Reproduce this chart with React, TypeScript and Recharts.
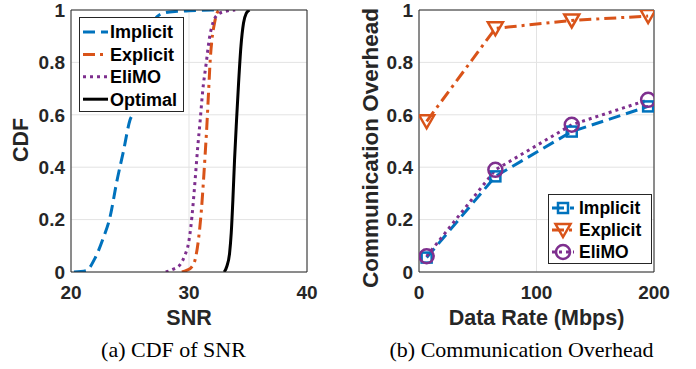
import { LineChart, Line, XAxis, YAxis, CartesianGrid, ReferenceLine } from 'recharts';

const BLUE = '#0072BD';
const ORANGE = '#D95319';
const PURPLE = '#7E2F8E';
const BLACK = '#000000';
const AXIS = '#262626';
const GRID = '#e3e3e3';
const SANS = "'Liberation Sans', Arial, Helvetica, sans-serif";
const SERIF = "'Liberation Serif', 'Times New Roman', serif";

// (a) CDF of SNR — one x/y list per curve
const implicitSnr = [20.25, 21.27, 22.04, 22.74, 23.31, 23.88, 24.44, 25.0, 25.3, 25.8, 26.3, 26.8, 27.3, 28.0, 29.0, 30.0, 32.3];
const implicitCdf = [0, 0.005, 0.053, 0.13, 0.21, 0.345, 0.46, 0.58, 0.61, 0.72, 0.83, 0.92, 0.975, 0.99, 0.995, 0.997, 1];
const explicitSnr = [29.39, 29.8, 30.24, 30.52, 30.8, 31.03, 31.23, 31.37, 31.51, 31.65, 31.8, 31.94, 32.16, 32.36, 32.59];
const explicitCdf = [0, 0.006, 0.02, 0.047, 0.123, 0.225, 0.35, 0.45, 0.555, 0.68, 0.81, 0.885, 0.95, 0.987, 1];
const elimoSnr = [28.03, 28.68, 29.25, 29.67, 29.96, 30.16, 30.33, 30.52, 30.72, 30.95, 31.17, 31.46, 31.71, 32.02, 32.5, 33.2, 33.92];
const elimoCdf = [0, 0.011, 0.028, 0.066, 0.11, 0.174, 0.25, 0.352, 0.466, 0.58, 0.695, 0.797, 0.886, 0.95, 0.985, 0.996, 1];
const optimalSnr = [32.98, 33.21, 33.44, 33.58, 33.72, 33.86, 34.03, 34.2, 34.4, 34.62, 34.85, 35.13];
const optimalCdf = [0, 0.022, 0.072, 0.149, 0.276, 0.428, 0.58, 0.72, 0.86, 0.95, 0.987, 1];

const snrTicks = [20, 30, 40];
const unitTicks = [0, 0.2, 0.4, 0.6, 0.8, 1];

// (b) Communication overhead vs data rate
const dataRates = [6.5, 65, 130, 195];
const implicitOverhead = [0.055, 0.365, 0.536, 0.632];
const explicitOverhead = [0.575, 0.93, 0.96, 0.977];
const elimoOverhead = [0.06, 0.39, 0.562, 0.657];
const rateTicks = [0, 100, 200];

const zip = (xs: number[], ys: number[]) => xs.map((x, i) => ({ x, y: ys[i] }));

const overheadRows = dataRates.map((x, i) => ({
  x,
  implicit: implicitOverhead[i],
  explicit: explicitOverhead[i],
  elimo: elimoOverhead[i],
}));

const tickStyle = { fill: AXIS, fontSize: 19, fontWeight: 'bold', fontFamily: SANS };
const fmtUnit = (v: number) => (v === 0 || v === 1 ? String(v) : v.toFixed(1));

const DASH = '12 6';
const DASHDOT = '12 5 3 5';
const DOT = '3 4';

// chart is as tall as the page so nothing under the x axis gets clipped
const CHART_H = 369;
const MARGIN_BOTTOM = 69;

function squareMarker(color: string, cx: number, cy: number, key?: string) {
  return <rect key={key} x={cx - 5} y={cy - 5} width={10} height={10} fill="none" stroke={color} strokeWidth={2.5} strokeDasharray="none" />;
}
function triangleMarker(color: string, cx: number, cy: number, key?: string) {
  const pts = `${cx - 7.5},${cy - 6} ${cx + 7.5},${cy - 6} ${cx},${cy + 7}`;
  return <polygon key={key} points={pts} fill="none" stroke={color} strokeWidth={2.5} strokeLinejoin="miter" strokeDasharray="none" />;
}
function circleMarker(color: string, cx: number, cy: number, key?: string) {
  return <circle key={key} cx={cx} cy={cy} r={7} fill="none" stroke={color} strokeWidth={2.5} strokeDasharray="none" />;
}

const dotOf = (draw: typeof squareMarker, color: string) => (p: any) => draw(color, p.cx, p.cy, `m-${color}-${p.index}`);

const cdfLegend = [
  { name: 'Implicit', color: BLUE, dash: DASH },
  { name: 'Explicit', color: ORANGE, dash: DASHDOT },
  { name: 'EliMO', color: PURPLE, dash: DOT },
  { name: 'Optimal', color: BLACK, dash: undefined },
];
const overheadLegend = [
  { name: 'Implicit', color: BLUE, dash: DASH, marker: squareMarker },
  { name: 'Explicit', color: ORANGE, dash: DASHDOT, marker: triangleMarker },
  { name: 'EliMO', color: PURPLE, dash: DOT, marker: circleMarker },
];

function CdfChart() {
  return (
    <LineChart width={340} height={CHART_H} margin={{ top: 10, right: 33, bottom: MARGIN_BOTTOM, left: 0 }}>
      <CartesianGrid stroke={GRID} />
      <XAxis
        type="number"
        dataKey="x"
        domain={[20, 40]}
        ticks={snrTicks}
        allowDataOverflow
        height={28}
        tickLine={false}
        tickSize={8}
        tickMargin={6}
        stroke={AXIS}
        tick={tickStyle}
        interval={0}
      />
      <YAxis
        type="number"
        dataKey="y"
        domain={[0, 1]}
        ticks={unitTicks}
        allowDataOverflow
        width={71}
        tickLine={false}
        tickSize={4}
        tickMargin={2}
        stroke={AXIS}
        tick={tickStyle}
        tickFormatter={fmtUnit}
        interval={0}
      />
      <Line data={zip(implicitSnr, implicitCdf)} dataKey="y" type="monotone" stroke={BLUE} strokeWidth={3} strokeDasharray={DASH} dot={false} isAnimationActive={false} />
      <Line data={zip(explicitSnr, explicitCdf)} dataKey="y" type="monotone" stroke={ORANGE} strokeWidth={3} strokeDasharray={DASHDOT} dot={false} isAnimationActive={false} />
      <Line data={zip(elimoSnr, elimoCdf)} dataKey="y" type="monotone" stroke={PURPLE} strokeWidth={3} strokeDasharray={DOT} dot={false} isAnimationActive={false} />
      <Line data={zip(optimalSnr, optimalCdf)} dataKey="y" type="monotone" stroke={BLACK} strokeWidth={3} dot={false} isAnimationActive={false} />
      <ReferenceLine y={1} stroke={AXIS} />
      <ReferenceLine x={40} stroke={AXIS} />
    </LineChart>
  );
}

function OverheadChart() {
  return (
    <LineChart width={356} height={CHART_H} data={overheadRows} margin={{ top: 10, right: 42, bottom: MARGIN_BOTTOM, left: 0 }}>
      <CartesianGrid stroke={GRID} />
      <XAxis
        type="number"
        dataKey="x"
        domain={[0, 200]}
        ticks={rateTicks}
        allowDataOverflow
        height={28}
        tickLine={false}
        tickSize={8}
        tickMargin={6}
        stroke={AXIS}
        tick={tickStyle}
        interval={0}
      />
      <YAxis
        type="number"
        domain={[0, 1]}
        ticks={unitTicks}
        allowDataOverflow
        width={79}
        tickLine={false}
        tickSize={4}
        tickMargin={2}
        stroke={AXIS}
        tick={tickStyle}
        tickFormatter={fmtUnit}
        interval={0}
      />
      <Line dataKey="implicit" type="linear" stroke={BLUE} strokeWidth={3} strokeDasharray={DASH} dot={dotOf(squareMarker, BLUE)} activeDot={false} isAnimationActive={false} />
      <Line dataKey="explicit" type="linear" stroke={ORANGE} strokeWidth={3} strokeDasharray={DASHDOT} dot={dotOf(triangleMarker, ORANGE)} activeDot={false} isAnimationActive={false} />
      <Line dataKey="elimo" type="linear" stroke={PURPLE} strokeWidth={3} strokeDasharray={DOT} dot={dotOf(circleMarker, PURPLE)} activeDot={false} isAnimationActive={false} />
      <ReferenceLine y={1} stroke={AXIS} />
      <ReferenceLine x={200} stroke={AXIS} />
    </LineChart>
  );
}

// labels, legends and captions drawn on top of both charts
function Overlay() {
  return (
    <svg width={696} height={369} style={{ position: 'absolute', left: 0, top: 0, pointerEvents: 'none' }}>
      <g fontFamily={SANS} fontWeight="bold" fill={AXIS}>
        <text transform="translate(28,140) rotate(-90)" textAnchor="middle" fontSize={21.5}>CDF</text>
        <text transform="translate(378,148) rotate(-90)" textAnchor="middle" fontSize={22.5}>Communication Overhead</text>
        <text x={189} y={325} textAnchor="middle" fontSize={21.5}>SNR</text>
        <text x={536.5} y={325} textAnchor="middle" fontSize={21.5}>Data Rate (Mbps)</text>
      </g>

      <rect x={79.5} y={17.5} width={104} height={94} fill="#fff" stroke={AXIS} strokeWidth={1} />
      {cdfLegend.map((e, i) => {
        const cy = 32 + i * 22.4;
        return (
          <g key={e.name}>
            <line x1={83} x2={108} y1={cy} y2={cy} stroke={e.color} strokeWidth={3} strokeDasharray={e.dash} />
            <text x={110} y={cy} dy="0.36em" fontFamily={SANS} fontWeight="bold" fontSize={18} fill="#000">{e.name}</text>
          </g>
        );
      })}

      <rect x={548.5} y={194.5} width={103} height={69} fill="#fff" stroke={AXIS} strokeWidth={1} />
      {overheadLegend.map((e, i) => {
        const cy = 208 + i * 22;
        return (
          <g key={e.name}>
            <line x1={552} x2={574} y1={cy} y2={cy} stroke={e.color} strokeWidth={3} strokeDasharray={e.dash} />
            {e.marker(e.color, 563, cy)}
            <text x={579} y={cy} dy="0.36em" fontFamily={SANS} fontWeight="bold" fontSize={17.5} fill="#000">{e.name}</text>
          </g>
        );
      })}

      <g fontFamily={SERIF} fontSize={22} fill="#000">
        <text x={173.5} y={357} textAnchor="middle">(a) CDF of SNR</text>
        <text x={521.5} y={357} textAnchor="middle">(b) Communication Overhead</text>
      </g>
    </svg>
  );
}

export default function App() {
  return (
    <div style={{ position: 'absolute', left: 0, top: 0, width: 696, height: 369, background: '#fff', fontFamily: SANS }}>
      <div style={{ position: 'absolute', left: 0, top: 0 }}>
        <CdfChart />
      </div>
      <div style={{ position: 'absolute', left: 340, top: 0 }}>
        <OverheadChart />
      </div>
      <Overlay />
    </div>
  );
}
